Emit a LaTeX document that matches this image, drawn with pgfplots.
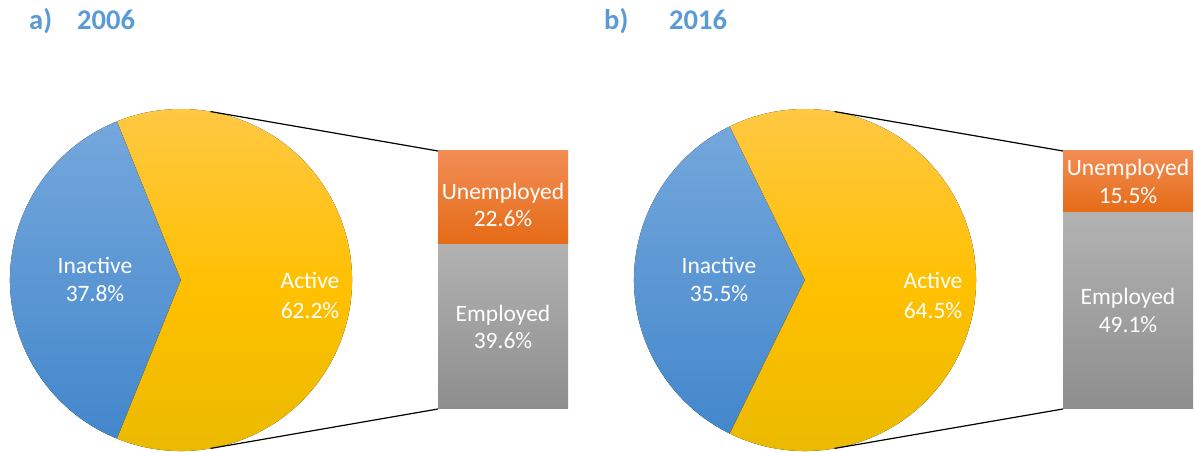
\documentclass[border=0pt]{standalone}
\usepackage{fontspec}
\setmainfont{Carlito}
\usepackage{pgfplots}
\pgfplotsset{compat=1.18}
\definecolor{blueTop}{HTML}{74A7DC}
\definecolor{blueBot}{HTML}{4387CB}
\definecolor{yelTop}{HTML}{FFC845}
\definecolor{yelMid}{HTML}{FFC000}
\definecolor{yelBot}{HTML}{E8B900}
\definecolor{orTop}{HTML}{F28D55}
\definecolor{orBot}{HTML}{E56B16}
\definecolor{grTop}{HTML}{B2B2B2}
\definecolor{grBot}{HTML}{8E8E8E}
\definecolor{ttl}{HTML}{5B9BD5}
\pgfplotsset{
  pieax/.style={hide axis, scale only axis, x=1pt, y=1pt,
    xmin=-172, xmax=172, ymin=-172, ymax=172, anchor=origin, clip=false},
  barax/.style={hide axis, scale only axis, width=130pt, height=258pt,
    anchor=south west, xmin=0, xmax=1, ymin=0, ybar stacked,
    bar width=130pt, clip=false},
}
\tikzset{
  lbl/.style={anchor=base, inner sep=0pt, text=white, font=\fontsize{23.5}{28}\selectfont},
  ttlf/.style={anchor=base west, inner sep=0pt, text=ttl, font=\fontsize{28.5}{32}\selectfont\bfseries},
}
% data
\def\inactA{37.8}\def\activeA{62.2}\def\unempA{22.6}\def\empA{39.6}
\def\inactB{35.5}\def\activeB{64.5}\def\unempB{15.5}\def\empB{49.1}
\begin{document}
\begin{tikzpicture}
\useasboundingbox (0,0) rectangle (1195pt,452pt);
% titles
\node[ttlf] at (29pt,422pt) {a)};
\node[ttlf] at (77pt,422pt) {2006};
\node[ttlf] at (604pt,422pt) {b)};
\node[ttlf] at (669pt,422pt) {2016};

% ---------- pie a
\pgfmathsetmacro{\sA}{180-1.8*\inactA}
\pgfmathsetmacro{\eA}{180+1.8*\inactA}
\pgfmathsetmacro{\eAA}{\sA+360}
\begin{axis}[pieax, at={(181pt,172pt)}]
\fill[top color=blueTop, bottom color=blueBot] (axis cs:0,0) -- (axis cs:{171*cos(\sA)},{171*sin(\sA)}) arc[start angle=\sA, end angle=\eA, radius=171pt] -- cycle;
\fill[top color=yelTop, bottom color=yelBot, middle color=yelMid] (axis cs:0,0) -- (axis cs:{171*cos(\eA)},{171*sin(\eA)}) arc[start angle=\eA, end angle=\eAA, radius=171pt] -- cycle;
\coordinate (pa-top) at (axis cs:{171*cos(80)},{171*sin(80)});
\coordinate (pa-bot) at (axis cs:{171*cos(-80)},{171*sin(-80)});
\node[lbl] at (axis cs:-86,6) {Inactive};
\node[lbl] at (axis cs:-86,-22) {\inactA\%};
\node[lbl] at (axis cs:129,-9) {Active};
\node[lbl] at (axis cs:129,-39) {\activeA\%};
\end{axis}

% ---------- bar a
\begin{axis}[barax, at={(438pt,43pt)}, ymax=\activeA]
\addplot[draw=none, top color=grTop, bottom color=grBot] coordinates {(0.5,\empA)};
\addplot[draw=none, top color=orTop, bottom color=orBot] coordinates {(0.5,\unempA)};
\coordinate (ba-tl) at (axis cs:0,\activeA);
\coordinate (ba-bl) at (axis cs:0,0);
\end{axis}
\node[lbl] at (503pt,252pt) {Unemployed};
\node[lbl] at (503pt,225pt) {\unempA\%};
\node[lbl] at (503pt,130pt) {Employed};
\node[lbl] at (503pt,103pt) {\empA\%};
\draw[black, line width=1.2pt] (pa-top) -- (ba-tl);
\draw[black, line width=1.2pt] (pa-bot) -- (ba-bl);

% ---------- pie b
\pgfmathsetmacro{\sB}{180-1.8*\inactB}
\pgfmathsetmacro{\eB}{180+1.8*\inactB}
\pgfmathsetmacro{\eBB}{\sB+360}
\begin{axis}[pieax, at={(805pt,172pt)}]
\fill[top color=blueTop, bottom color=blueBot] (axis cs:0,0) -- (axis cs:{171*cos(\sB)},{171*sin(\sB)}) arc[start angle=\sB, end angle=\eB, radius=171pt] -- cycle;
\fill[top color=yelTop, bottom color=yelBot, middle color=yelMid] (axis cs:0,0) -- (axis cs:{171*cos(\eB)},{171*sin(\eB)}) arc[start angle=\eB, end angle=\eBB, radius=171pt] -- cycle;
\coordinate (pb-top) at (axis cs:{171*cos(80)},{171*sin(80)});
\coordinate (pb-bot) at (axis cs:{171*cos(-80)},{171*sin(-80)});
\node[lbl] at (axis cs:-86,6) {Inactive};
\node[lbl] at (axis cs:-86,-22) {\inactB\%};
\node[lbl] at (axis cs:128,-9) {Active};
\node[lbl] at (axis cs:128,-39) {\activeB\%};
\end{axis}

% ---------- bar b
\begin{axis}[barax, at={(1063pt,43pt)}, ymax=\activeB]
\addplot[draw=none, top color=grTop, bottom color=grBot] coordinates {(0.5,\empB)};
\addplot[draw=none, top color=orTop, bottom color=orBot] coordinates {(0.5,\unempB)};
\coordinate (bb-tl) at (axis cs:0,\activeB);
\coordinate (bb-bl) at (axis cs:0,0);
\end{axis}
\node[lbl] at (1128pt,276pt) {Unemployed};
\node[lbl] at (1128pt,248pt) {\unempB\%};
\node[lbl] at (1128pt,147pt) {Employed};
\node[lbl] at (1128pt,119pt) {\empB\%};
\draw[black, line width=1.2pt] (pb-top) -- (bb-tl);
\draw[black, line width=1.2pt] (pb-bot) -- (bb-bl);
\end{tikzpicture}
\end{document}
